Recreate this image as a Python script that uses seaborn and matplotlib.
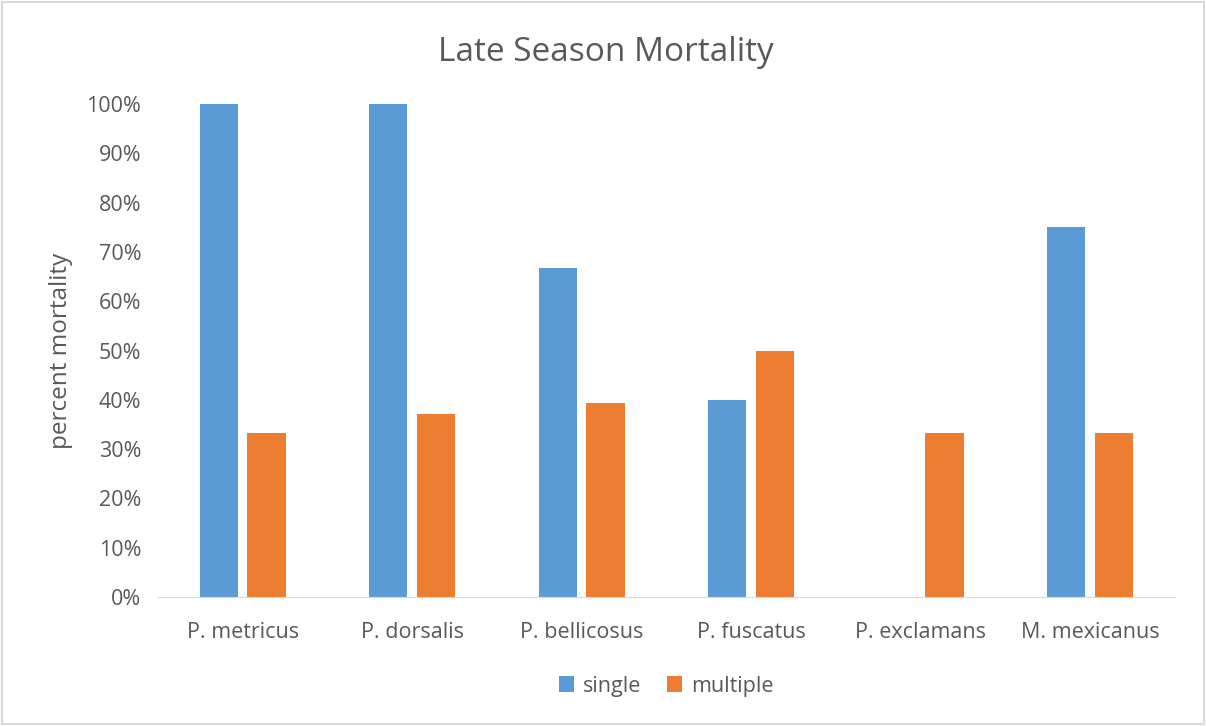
import pandas as pd
import numpy as np
import matplotlib.pyplot as plt
import seaborn as sns
from matplotlib.ticker import PercentFormatter

species = ['P. metricus', 'P. dorsalis', 'P. bellicosus', 'P. fuscatus', 'P. exclamans', 'M. mexicanus']
single = [1.00, 1.00, 0.667, 0.40, 0.0, 0.75]
multiple = [0.333, 0.371, 0.393, 0.50, 0.333, 0.333]

df = pd.DataFrame({'species': species * 2,
                   'mortality': single + multiple,
                   'group': ['single'] * len(species) + ['multiple'] * len(species)})

sns.set_style('white')
plt.rcParams['font.family'] = ['Open Sans', 'DejaVu Sans']
grey = '#595959'

fig = plt.figure(figsize=(12.06, 7.26), dpi=100)
ax = fig.add_axes([0.131, 0.1777, 0.843, 0.679])
sns.barplot(data=df, x='species', y='mortality', hue='group',
            palette={'single': '#5B9BD5', 'multiple': '#ED7D31'},
            saturation=1, linewidth=0, width=0.565, gap=0.2, ax=ax)

ax.set_ylim(0, 1)
ax.set_yticks(np.arange(0, 1.01, 0.1))
ax.yaxis.set_major_formatter(PercentFormatter(1.0, decimals=0))
ax.tick_params(axis='both', colors=grey, labelsize=15.5, length=0)
ax.tick_params(axis='x', pad=18)
ax.tick_params(axis='y', pad=12)
for s in ['top', 'right', 'left']:
    ax.spines[s].set_visible(False)
ax.spines['bottom'].set_color('#d9d9d9')
ax.set_xlabel('')
ax.set_ylabel('percent mortality', color=grey, fontsize=17.5, labelpad=10)
fig.suptitle('Late Season Mortality', color=grey, fontsize=24, x=0.502, y=0.951)

ax.legend(loc='upper center', bbox_to_anchor=(0.5, -0.12), ncol=2, frameon=False,
          fontsize=15.5, labelcolor=grey, handlelength=0.7, handleheight=0.7,
          handletextpad=0.4, columnspacing=1.2)

fig.patches.append(plt.Rectangle((0.002, 0.003), 0.996, 0.994, transform=fig.transFigure,
                                 fill=False, edgecolor='#d9d9d9', linewidth=1.5))
plt.savefig('out.png', dpi=100)
